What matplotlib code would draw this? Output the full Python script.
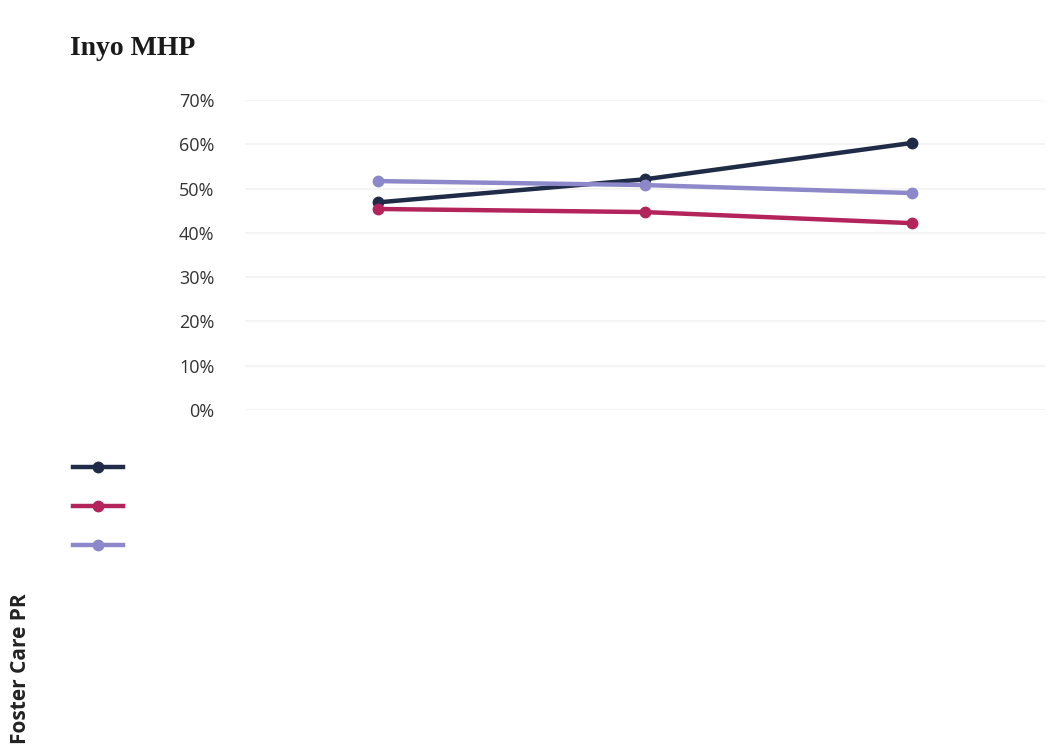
import numpy as np
import matplotlib.pyplot as plt
from matplotlib.lines import Line2D

# Foster care penetration rate, Inyo MHP - three years, three series
years = ['Year 1', 'Year 2', 'Year 3']
series_dark = [0.469, 0.521, 0.603]
series_red = [0.454, 0.447, 0.422]
series_lav = [0.517, 0.508, 0.490]
y_ticks = [0, 0.1, 0.2, 0.3, 0.4, 0.5, 0.6, 0.7]

colors = ['#1f2b47', '#b3245d', '#8d88ca']

fig = plt.figure(figsize=(10.58, 7.51), dpi=100)
ax = fig.add_axes([0.2316, 0.454, 0.756, 0.4128])

x = np.arange(len(years))
for vals, c in zip([series_dark, series_red, series_lav], colors):
    ax.plot(x, vals, color=c, linewidth=3.2, marker='o', markersize=7.5, solid_capstyle='butt')

ax.set_xlim(-0.5, 2.5)
ax.set_ylim(0, 0.7)
ax.set_yticks(y_ticks)
ax.set_yticklabels(['%d%%' % round(t * 100) for t in y_ticks],
                   fontsize=13, color='#333333', family='Open Sans')
ax.set_xticks([])
ax.tick_params(axis='y', length=0, pad=22)
ax.grid(axis='y', color='#f4f4f4', linewidth=1.5)
ax.set_axisbelow(True)
for s in ax.spines.values():
    s.set_visible(False)

fig.text(0.066, 0.936, 'Inyo MHP', fontsize=20, fontweight='bold',
         family='Liberation Serif', color='#1a1a1a', va='center', ha='left')

fig.text(0.019, 0.110, 'Foster Care PR', fontsize=15, fontweight='bold',
         family='Open Sans', color='#222222', rotation=90, va='center', ha='center')

# legend with no labels, as in the source
leg_handles = [Line2D([0], [0], color=c, linewidth=3.2, marker='o', markersize=7.5) for c in colors]
fig.legend(leg_handles, ['', '', ''], loc='upper left', bbox_to_anchor=(0.055, 0.409),
           frameon=False, handlelength=3.0, labelspacing=1.25, fontsize=12)

fig.savefig('out.png', dpi=100)
